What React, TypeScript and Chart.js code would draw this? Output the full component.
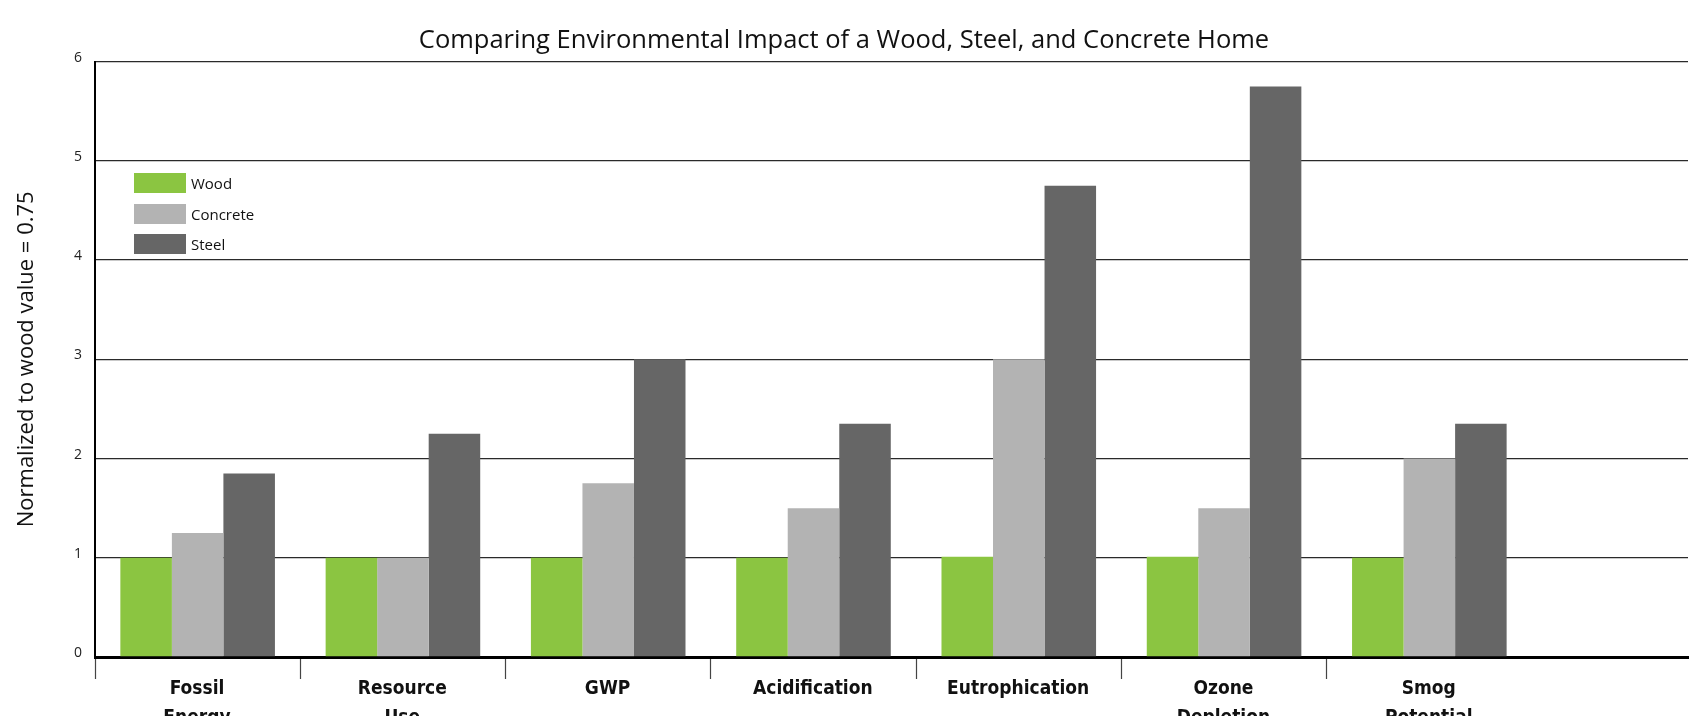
import React, { useEffect, useRef } from 'react';
import { Chart, registerables } from 'chart.js';

Chart.register(...registerables);

const chartTitle = 'Comparing Environmental Impact of a Wood, Steel, and Concrete Home';
const yAxisTitle = 'Normalized to wood value = 0.75';
const categories = ['Fossil Energy', 'Resource Use', 'GWP', 'Acidification', 'Eutrophication', 'Ozone Depletion', 'Smog Potential'];
const woodValues = [1, 1, 1, 1, 1.01, 1.01, 1];
const concreteValues = [1.25, 1.0, 1.75, 1.5, 3.0, 1.5, 2.0];
const steelValues = [1.85, 2.25, 3.0, 2.35, 4.75, 5.75, 2.35];
const seriesNames = ['Wood', 'Concrete', 'Steel'];
const seriesColors = ['#8BC541', '#B3B3B3', '#666666'];
const yTickValues = [0, 1, 2, 3, 4, 5, 6];

const W = 1695;
const H = 760;

export default function App() {
  const ref = useRef<HTMLCanvasElement | null>(null);

  useEffect(() => {
    if (!ref.current) return;
    const series = [woodValues, concreteValues, steelValues];
    const chart = new Chart(ref.current, {
      type: 'bar',
      data: {
        datasets: series.map((vals, si) => ({
          label: seriesNames[si],
          data: vals.map((v, i) => ({ x: i + 0.5, y: v })),
          backgroundColor: seriesColors[si],
          borderWidth: 0,
          barPercentage: 1,
          categoryPercentage: 0.753,
        })),
      },
      options: {
        responsive: false,
        animation: false,
        devicePixelRatio: 1,
        layout: { padding: { left: 0, right: 7, top: 0, bottom: 0 } },
        plugins: {
          legend: { display: false },
          tooltip: { enabled: false },
          title: {
            display: true,
            text: chartTitle,
            color: '#111',
            font: { family: 'Open Sans', size: 25.5, weight: 'normal' },
            padding: { top: 25, bottom: 6 },
          },
        },
        scales: {
          x: {
            type: 'linear',
            min: 0,
            max: 7.76,
            offset: false,
            afterFit: (s: any) => { s.height = H - 657; },
            border: { display: true, color: '#000', width: 3 },
            grid: {
              offset: false,
              drawOnChartArea: false,
              drawTicks: true,
              tickLength: 22,
              tickWidth: 1.2,
              tickColor: (ctx: any) => (ctx.tick && ctx.tick.value <= categories.length - 1 ? '#444' : 'rgba(0,0,0,0)'),
            },
            ticks: {
              stepSize: 1,
              includeBounds: false,
              autoSkip: false,
              maxRotation: 0,
              minRotation: 0,
              labelOffset: 102,
              padding: -5,
              color: '#111',
              font: { family: "'DejaVu Sans Condensed', 'Liberation Sans Narrow', sans-serif", size: 19, weight: 'bold', lineHeight: 1.55 },
              callback: (value: any) => {
                const c = categories[Number(value)];
                return c ? c.split(' ') : '';
              },
            },
          },
          y: {
            min: 0,
            max: 6,
            afterFit: (s: any) => { s.width = 95; },
            afterBuildTicks: (s: any) => { s.ticks = yTickValues.map((v) => ({ value: v })); },
            border: { display: true, color: '#000', width: 2 },
            grid: {
              drawTicks: false,
              color: (ctx: any) => (ctx.tick && ctx.tick.value === 0 ? 'rgba(0,0,0,0)' : '#2a2a2a'),
              lineWidth: 1.3,
            },
            ticks: {
              stepSize: 1,
              padding: 13,
              labelOffset: -4,
              color: '#222',
              font: { family: 'Open Sans', size: 14 },
            },
            title: {
              display: true,
              text: yAxisTitle,
              color: '#111',
              font: { family: 'Open Sans', size: 22, weight: 'normal' },
              padding: { top: 14, bottom: 0 },
            },
          },
        },
      },
    });
    return () => chart.destroy();
  }, []);

  return (
    <div style={{ position: 'fixed', left: 0, top: 0, width: W, height: 716, overflow: 'hidden', background: '#fff' }}>
      <canvas ref={ref} width={W} height={H} style={{ display: 'block', width: W, height: H }} />
      <div style={{ position: 'absolute', left: 134, top: 173, fontFamily: 'Open Sans', fontSize: 15, color: '#111' }}>
        {seriesNames.map((n, i) => (
          <div key={n} style={{ display: 'flex', alignItems: 'center', height: 20, marginBottom: 10.5 }}>
            <span style={{ display: 'inline-block', width: 52, height: 20, background: seriesColors[i], marginRight: 5 }} />
            <span>{n}</span>
          </div>
        ))}
      </div>
    </div>
  );
}
